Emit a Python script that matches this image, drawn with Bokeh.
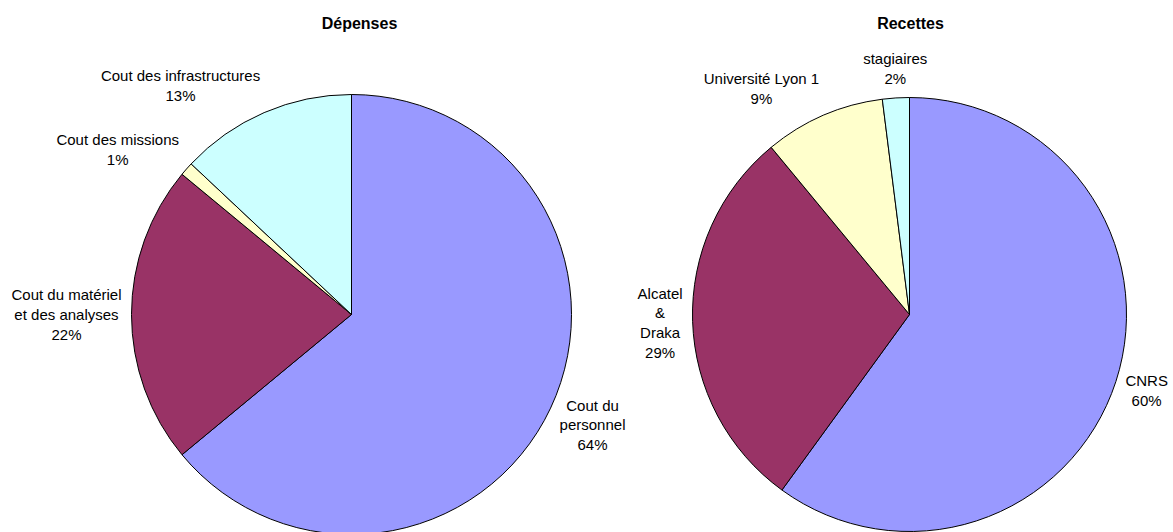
import math
from bokeh.plotting import figure
from bokeh.models import Range1d, ColumnDataSource
from bokeh.embed import file_html
from bokeh.resources import INLINE
from bokeh.core.properties import value

# ---- data ----
dep_names = ["Cout du\npersonnel", "Cout du matériel\net des analyses", "Cout des missions", "Cout des infrastructures"]
dep_values = [64, 22, 1, 13]
rec_names = ["CNRS", "Alcatel\n&\nDraka", "Université Lyon 1", "stagiaires"]
rec_values = [60, 29, 9, 2]
slice_colors = ["#9999FF", "#993366", "#FFFFCC", "#CCFFFF"]
titles = ["Dépenses", "Recettes"]

# ---- layout ----
W, H = 1173, 532
FONT = "Liberation Sans"
FS = 15.0
LH = 19.5

# Arial / Liberation Sans advance widths (per 1000 em) for text-block centring
ARIAL = {" ": 278, "%": 889, "&": 667, "A": 667, "C": 722, "D": 722, "L": 556,
         "N": 722, "R": 722, "S": 667, "U": 722, "a": 556, "c": 500, "d": 556,
         "e": 556, "é": 556, "f": 278, "g": 556, "i": 222, "k": 500, "l": 222,
         "m": 833, "n": 556, "o": 556, "p": 556, "r": 333, "s": 500, "t": 278,
         "u": 556, "v": 500, "y": 500}


def text_w(line):
    return sum(ARIAL.get(ch, 556) for ch in line) * FS / 1000.0


p = figure(width=W, height=H, output_backend="svg", toolbar_location=None,
           x_range=Range1d(0, W), y_range=Range1d(0, H),
           min_border=0, min_border_left=0, min_border_right=0,
           min_border_top=0, min_border_bottom=0)
p.axis.visible = False
p.grid.visible = False
p.outline_line_color = None
p.background_fill_color = "white"
p.border_fill_color = "white"


def page_to_data(px, py):
    return px, H - py


def draw_pie(values, names, cx_page, cy_page, R, title, title_x_page):
    cx, cy = page_to_data(cx_page, cy_page)
    total = float(sum(values))
    starts, ends = [], []
    lx, ly, ltext = [], [], []
    cum = 0.0
    gap = 10
    for v, name in zip(values, names):
        a0 = cum / total
        a1 = (cum + v) / total
        cum += v
        # bokeh angles: anticlockwise from +x; pie goes clockwise from 12 o'clock
        starts.append(math.pi / 2 - a1 * 2 * math.pi)
        ends.append(math.pi / 2 - a0 * 2 * math.pi)
        mid = (a0 + a1) / 2 * 2 * math.pi
        dx = math.sin(mid)
        dy_down = -math.cos(mid)
        ax = cx + (R + gap) * dx
        ay = cy - (R + gap) * dy_down
        txt = name + "\n" + f"{v}%"
        lines = txt.split("\n")
        h = len(lines) * LH
        w = max(text_w(s) for s in lines)
        ly.append(ay - h * dy_down / 2)
        if dx > 0.35:
            lx.append(ax + w / 2)
        elif dx < -0.35:
            lx.append(ax - w / 2)
        else:
            lx.append(ax)
        ltext.append(txt)
    src = ColumnDataSource(dict(start=starts, end=ends, color=slice_colors[:len(values)]))
    p.wedge(x=cx, y=cy, radius=R, start_angle="start", end_angle="end",
            fill_color="color", line_color="black", line_width=1, source=src)
    lsrc = ColumnDataSource(dict(x=lx, y=ly, text=ltext))
    p.text(x="x", y="y", text="text", text_align="center", text_baseline="middle",
           text_font=value(FONT), text_font_size=f"{FS}px", text_color="black",
           text_line_height=LH / (1.117 * FS), source=lsrc)
    tx, ty = page_to_data(title_x_page, 23)
    p.text(x=[tx], y=[ty], text=[title], text_align="center", text_baseline="middle",
           text_font=value(FONT), text_font_size="16px", text_font_style="bold",
           text_color="black")


draw_pie(dep_values, dep_names, 351, 314, 220, titles[0], 359)
draw_pie(rec_values, rec_names, 909, 314, 217, titles[1], 910)

open("out.html", "w").write(file_html(p, INLINE))
